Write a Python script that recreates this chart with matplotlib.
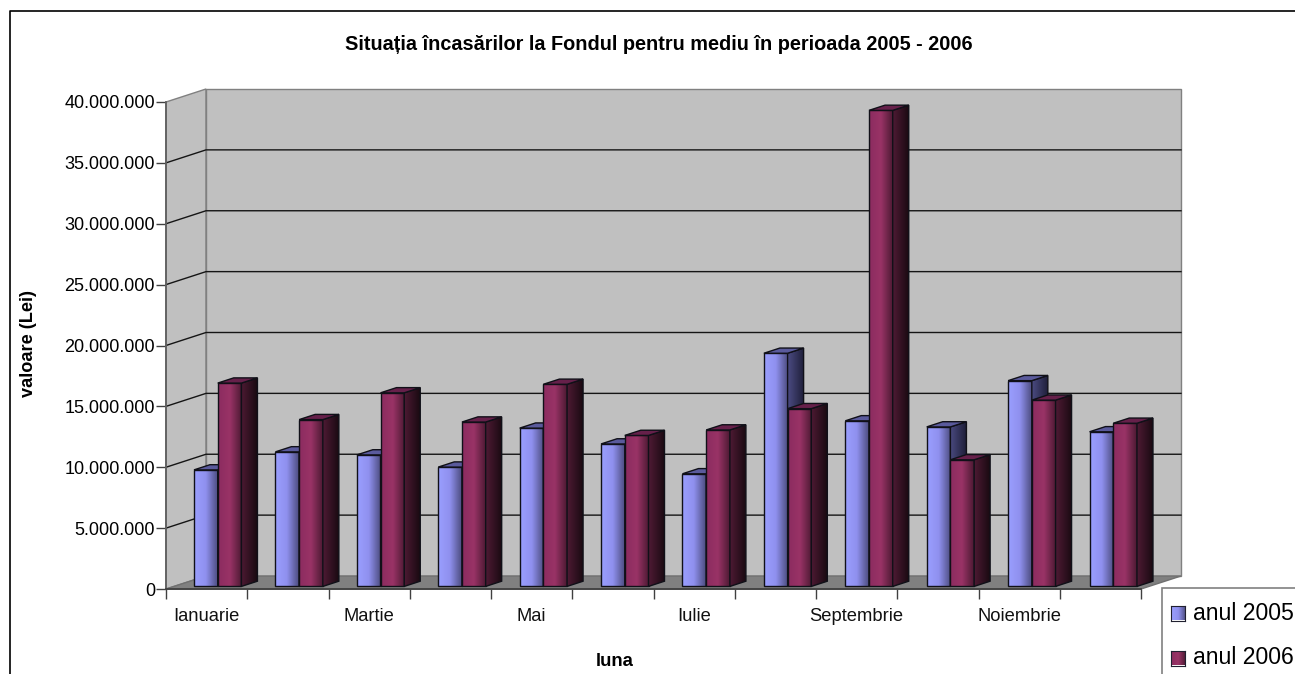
import numpy as np
import matplotlib
matplotlib.use("Agg")
import matplotlib.pyplot as plt
from matplotlib.colors import LinearSegmentedColormap
from matplotlib.lines import Line2D
from matplotlib.patches import Polygon, Rectangle
from matplotlib.ticker import FuncFormatter

plt.rcParams['font.family'] = ['Liberation Sans', 'DejaVu Sans']

W, H = 1295, 674

months = ["Ianuarie", "Februarie", "Martie", "Aprilie", "Mai", "Iunie", "Iulie",
          "August", "Septembrie", "Octombrie", "Noiembrie", "Decembrie"]
shown_months = ["Ianuarie", "Martie", "Mai", "Iulie", "Septembrie", "Noiembrie"]
anul_2005 = [9.57, 11.05, 10.8, 9.8, 13.0, 11.7, 9.25, 19.15, 13.6, 13.1, 16.9, 12.7]
anul_2006 = [16.7, 13.7, 15.9, 13.5, 16.6, 12.4, 12.85, 14.6, 39.1, 10.4, 15.3, 13.4]
y_ticks = [0, 5, 10, 15, 20, 25, 30, 35, 40]

# oblique depth of the fake 3D box, in axis units
DEPTH_X = 40 / 81.25
DEPTH_Y = 13 / 12.175

front_2005 = ["#9a9fff", "#8f90ee", "#4d4d80"]
side_2005 = ["#4a4a80", "#1f1f3a"]
top_2005 = "#5a5a9c"
front_2006 = ["#8c2c60", "#993366", "#4d1a33"]
side_2006 = ["#4d1a33", "#1a0a12"]
top_2006 = "#66204a"


def pr(x, y, z=0.0):
    return x + z * DEPTH_X, y + z * DEPTH_Y


def px_x(x):
    return x / W


def px_y(y):
    return 1 - y / H


def gradient_face(ax, pts, colors, zorder):
    cmap = LinearSegmentedColormap.from_list("face", colors)
    xs = [p[0] for p in pts]
    ys = [p[1] for p in pts]
    im = ax.imshow(np.linspace(0, 1, 64)[None, :], cmap=cmap, aspect='auto', zorder=zorder,
                   interpolation='bilinear', extent=(min(xs), max(xs), min(ys), max(ys)))
    poly = Polygon(pts, closed=True, fill=False, edgecolor='#101018', linewidth=1.0,
                   zorder=zorder, clip_on=False)
    ax.add_patch(poly)
    im.set_clip_path(poly)
    im.set_clip_box(fig.bbox)


def draw_bar(ax, x0, width, value, front, side, top, zorder):
    z0, z1 = 0.2, 0.6
    x1 = x0 + width
    gradient_face(ax, [pr(x0, 0, z0), pr(x1, 0, z0), pr(x1, value, z0), pr(x0, value, z0)], front, zorder)
    gradient_face(ax, [pr(x1, 0, z0), pr(x1, 0, z1), pr(x1, value, z1), pr(x1, value, z0)], side, zorder)
    ax.add_patch(Polygon([pr(x0, value, z0), pr(x1, value, z0), pr(x1, value, z1), pr(x0, value, z1)],
                         closed=True, facecolor=top, edgecolor='#101018', linewidth=1.0,
                         zorder=zorder, clip_on=False))


fig = plt.figure(figsize=(W / 100, H / 100), dpi=100, facecolor='white')
ax = fig.add_axes([px_x(166), px_y(589), (1141 - 166) / W, (589 - 102) / H])
ax.patch.set_visible(False)

# walls and floor
wall = '#c0c0c0'
edge = '#808080'
ax.add_patch(Polygon([pr(0, 0), pr(0, 0, 1), pr(0, 40, 1), pr(0, 40)], closed=True,
                     facecolor=wall, edgecolor=edge, zorder=1, clip_on=False))
ax.add_patch(Polygon([pr(0, 0, 1), pr(12, 0, 1), pr(12, 40, 1), pr(0, 40, 1)], closed=True,
                     facecolor=wall, edgecolor=edge, zorder=1, clip_on=False))
ax.add_patch(Polygon([pr(0, 0), pr(12, 0), pr(12, 0, 1), pr(0, 0, 1)], closed=True,
                     facecolor='#808080', edgecolor='#707070', zorder=1.1, clip_on=False))
for t in y_ticks[1:-1]:
    a, b, c = pr(0, t), pr(0, t, 1), pr(12, t, 1)
    ax.plot([a[0], b[0], c[0]], [a[1], b[1], c[1]], color='#151515', lw=1.0, zorder=1.2, clip_on=False)

# bars
bar_w = 0.292
offset = 0.246
pitch = 1.002
z = 2
for i in range(len(months)):
    draw_bar(ax, i * pitch + offset, bar_w, anul_2005[i], front_2005, side_2005, top_2005, z)
    draw_bar(ax, i * pitch + offset + bar_w, bar_w, anul_2006[i], front_2006, side_2006, top_2006, z + 0.1)
    z += 0.2

ax.set_xlim(0, 12)
ax.set_ylim(0, 40)
for s in ['top', 'right']:
    ax.spines[s].set_visible(False)
ax.spines['left'].set_color('#606060')
ax.spines['left'].set_linewidth(1.3)
ax.spines['bottom'].set_color('#404040')
ax.spines['bottom'].set_linewidth(1.3)
ax.spines['left'].set_zorder(10)
ax.spines['bottom'].set_zorder(10)

ax.set_yticks(y_ticks)
ax.yaxis.set_major_formatter(FuncFormatter(lambda v, pos: f"{int(v * 1e6):,}".replace(",", ".")))
ax.set_xticks(np.arange(13))
ax.set_xticklabels([])
ax.set_xticks([months.index(m) + 0.5 for m in shown_months], labels=shown_months, minor=True)
ax.tick_params(axis='y', labelsize=13.0, length=7, width=1, color='#404040', pad=1)
ax.tick_params(axis='x', which='major', length=7, width=1, color='#404040')
ax.tick_params(axis='x', which='minor', length=0, labelsize=13.2, pad=14, labelcolor='#111111')

fig.text(px_x(659), px_y(44), "Situația încasărilor la Fondul pentru mediu în perioada 2005 - 2006",
         fontsize=14.3, fontweight='bold', ha='center', va='center')
fig.text(px_x(28.5), px_y(343.5), "valoare (Lei)", fontsize=13.1, fontweight='bold', rotation=90,
         ha='center', va='center')
fig.text(px_x(614.5), px_y(661), "luna", fontsize=13.4, fontweight='bold', ha='center', va='center')

# outer chart frame, right and bottom are cut off in the picture
fig.add_artist(Line2D([px_x(9.5), px_x(9.5), 1],
                      [0, px_y(11), px_y(11)], color='black', lw=1.2))

# legend box runs past the image edge
fig.add_artist(Rectangle((px_x(1162), -0.05), 0.2, px_y(588) + 0.05, transform=fig.transFigure,
                         facecolor='white', edgecolor='#808080', lw=1.2))
for top_px, name, colors in [(606, "anul 2005", front_2005), (651, "anul 2006", front_2006)]:
    sw = fig.add_axes([px_x(1170.5), px_y(top_px + 14.5), 14.5 / W, 14.5 / H], zorder=5)
    sw.imshow(np.linspace(0, 1, 32)[None, :], aspect='auto',
              cmap=LinearSegmentedColormap.from_list("sw", colors), interpolation='bilinear')
    sw.set_xticks([])
    sw.set_yticks([])
    for s in sw.spines.values():
        s.set_color('#202030')
    fig.text(px_x(1193), px_y(top_px + 7), name, fontsize=16.6, ha='left', va='center', zorder=6)

fig.savefig("out.png", dpi=100)
